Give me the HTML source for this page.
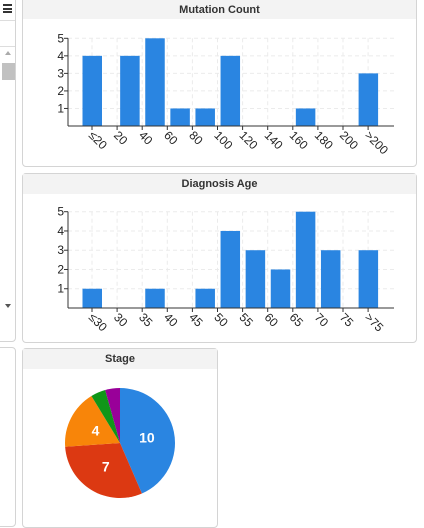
<!DOCTYPE html>
<html><head><meta charset="utf-8"><style>
body{margin:0;width:424px;height:517px;overflow:hidden;background:#fff;font-family:"Liberation Sans",Arial,sans-serif;position:relative}
.panel{position:absolute;border:1px solid #d4d4d4;border-radius:4px;background:#fff;box-sizing:border-box}
.hdr{position:absolute;left:0;right:0;top:0;height:20px;background:#f3f3f3;font-size:11px;font-weight:bold;color:#333;text-align:center;line-height:20px}
svg text{font-family:"Liberation Sans",Arial,sans-serif}
</style></head><body>
<div style="position:absolute;left:-5px;top:-5px;width:21px;height:347px;border:1px solid #d4d4d4;border-radius:4px;box-sizing:border-box">
 <div style="position:absolute;left:7px;top:8px;width:9px;height:9px;border-top:2px solid #333;border-bottom:2px solid #333;box-sizing:border-box"><div style="margin-top:1.5px;height:2px;background:#333"></div></div>
 <div style="position:absolute;left:0;right:0;top:24px;border-top:1px solid #ddd"></div>
 <div style="position:absolute;left:0;right:0;top:50px;border-top:1px solid #ddd"></div>
 <div style="position:absolute;left:9px;top:55px;width:0;height:0;border-left:3px solid transparent;border-right:3px solid transparent;border-bottom:4px solid #aaa"></div>
 <div style="position:absolute;left:6px;top:67px;width:13px;height:17px;background:#c1c1c1"></div>
 <div style="position:absolute;left:9px;top:308px;width:0;height:0;border-left:3px solid transparent;border-right:3px solid transparent;border-top:4px solid #555"></div>
</div>
<div style="position:absolute;left:-5px;top:347px;width:21px;height:180px;border:1px solid #d4d4d4;border-radius:4px;box-sizing:border-box"></div>

<div class="panel" style="left:22px;top:-4px;width:395px;height:171px">
 <div class="hdr" style="top:0;height:22px;line-height:26px">Mutation Count</div>
</div>
<div class="panel" style="left:22px;top:173px;width:395px;height:170px">
 <div class="hdr">Diagnosis Age</div>
</div>
<div class="panel" style="left:22px;top:348px;width:196px;height:180px">
 <div class="hdr">Stage</div>
</div>
<svg id="s" width="424" height="517" style="position:absolute;left:0;top:0"></svg>
<script>
const mutTicks=["≤20","20","40","60","80","100","120","140","160","180","200",">200"];
const mutCats=["≤20","20-40","40-60","60-80","80-100","100-120","120-140","140-160","160-180","180-200",">200"];
const mutValues=[4,4,5,1,1,4,0,0,1,0,3];
const ageTicks=["≤30","30","35","40","45","50","55","60","65","70","75",">75"];
const ageCats=["≤30","30-35","35-40","40-45","45-50","50-55","55-60","60-65","65-70","70-75",">75"];
const ageValues=[1,0,1,0,1,4,3,2,5,3,3];
const stageLabels=["Stage A","Stage B","Stage C","Stage D","Stage E"];
const stageValues=[10,7,4,1,1];
const stageColors=["#2a85e1","#dc3912","#f88509","#109618","#990099"];

const NS="http://www.w3.org/2000/svg";
const svg=document.getElementById('s');
function mk(t,a,p){const e=document.createElementNS(NS,t);for(const k in a)e.setAttribute(k,a[k]);(p||svg).appendChild(e);return e;}
function tickX(t){return 92+25.1*t;}
function catX(i,n){return i===0?tickX(0):(i===n-1?tickX(n):tickX(i+0.5));}
function hist(name,ticks,cats,vals,base,top){
  const y=v=>base-(base-top)*v/5;
  const g=mk('g',{});
  
  
  for(let v=1;v<=5;v++){
    mk('line',{x1:68,x2:394,y1:y(v),y2:y(v),stroke:'#ebebeb','stroke-dasharray':'4,3'},g);
    const t=mk('text',{x:64,y:y(v)+4,'text-anchor':'end','font-size':12,fill:'#222'},g);
    t.textContent=v;
    
    
    mk('line',{x1:64,x2:68,y1:y(v),y2:y(v),stroke:'#333'},g);
  }
  ticks.forEach((lab,i)=>{
    const x=tickX(i);
    mk('line',{x1:x,x2:x,y1:top,y2:base,stroke:'#ebebeb','stroke-dasharray':'4,3'},g);
  });
  cats.forEach((c,i)=>{
    const cx=catX(i,cats.length);
    const r=mk('rect',{x:cx-9.5,y:y(vals[i]),width:19.5,height:base-y(vals[i]),fill:'#2a85e1'},g);
    
    
  });
  mk('line',{x1:68,x2:68,y1:top,y2:base,stroke:'#333'},g);
  mk('line',{x1:68,x2:394,y1:base,y2:base,stroke:'#333'},g);
  ticks.forEach((lab,i)=>{
    const x=tickX(i);
    mk('line',{x1:x,x2:x,y1:base,y2:base+4,stroke:'#333'},g);
    const t=mk('text',{x:x-4,y:base+10,'font-size':12,fill:'#222',transform:`rotate(45 ${x-4} ${base+10})`},g);
    t.textContent=lab;
    
    
  });
}
hist('mutation-count',mutTicks,mutCats,mutValues,126,38.3);
hist('diagnosis-age',ageTicks,ageCats,ageValues,308,211.7);
// pie
const cx=120,cy=443,R=55;
const total=stageValues.reduce((a,b)=>a+b,0);
let ang=0;
stageValues.forEach((v,i)=>{
  const a0=ang,a1=ang+v/total*2*Math.PI;ang=a1;
  const p=a=>[cx+R*Math.sin(a),cy-R*Math.cos(a)];
  const [x0,y0]=p(a0),[x1,y1]=p(a1);
  const s=mk('path',{d:`M${cx},${cy}L${x0},${y0}A${R},${R} 0 ${a1-a0>Math.PI?1:0} 1 ${x1},${y1}Z`,fill:stageColors[i]});
  
  
  if(v/total>0.1){
    const m=(a0+a1)/2;
    const t=mk('text',{x:cx+R*0.5*Math.sin(m),y:cy-R*0.5*Math.cos(m)+5,'text-anchor':'middle','font-size':14,'font-weight':'bold',fill:'#fff'});
    t.textContent=v;
    
    
  }
});
</script>
</body></html>
